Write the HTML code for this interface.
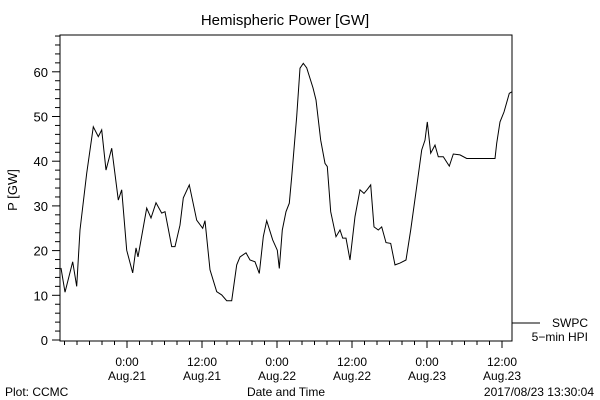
<!DOCTYPE html>
<html><head><meta charset="utf-8"><style>
html,body{margin:0;padding:0;background:#fff;}
svg{display:block;font-family:"Liberation Sans",sans-serif;}
</style></head><body>
<svg id="chart" width="600" height="400">
<text x="285" y="25" font-size="15" text-anchor="middle">Hemispheric Power [GW]</text>
<text transform="translate(17,190) rotate(-90)" font-size="13" text-anchor="middle">P [GW]</text>
<text x="286" y="396" font-size="12" text-anchor="middle">Date and Time</text>
<text x="5" y="396" font-size="12">Plot: CCMC</text>
<text x="594" y="396" font-size="12" text-anchor="end">2017/08/23 13:30:04</text>
<rect x="60" y="35" width="452" height="306" fill="none" stroke="#000" stroke-width="1"/>
<g id="axes"></g>
<polyline id="series" fill="none" stroke="#000" stroke-width="1"/>
<line x1="512" y1="323" x2="540" y2="323" stroke="#000"/>
<text x="588" y="327" font-size="12" text-anchor="end">SWPC</text>
<text x="588" y="341" font-size="12" text-anchor="end">5−min HPI</text>
</svg>
<script>
const hours = [-10.56,-9.92,-8.69,-8.05,-7.52,-6.45,-5.39,-4.59,-4.05,-3.36,-2.45,-1.39,-0.85,-0.05,0.91,1.44,1.76,3.15,3.84,4.64,5.55,6.08,7.15,7.68,8.48,9.01,9.97,11.15,12.11,12.48,13.28,14.35,15.15,15.95,16.75,17.55,18.08,19.04,19.68,20.48,21.17,21.81,22.35,23.31,24.05,24.37,24.85,25.44,25.97,26.35,27.15,27.68,28.21,28.75,29.76,30.24,30.99,31.68,32.05,32.59,33.44,34.08,34.51,35.04,35.68,36.48,37.28,37.92,38.45,38.99,39.52,40.21,40.75,41.44,42.19,42.88,43.68,44.64,45.39,46.35,47.15,47.68,48.05,48.59,49.28,49.81,50.61,51.57,52.21,53.28,54.35,56.48,58.88,59.15,59.68,60.32,61.17,61.55];
const power = [16.1,10.7,17.5,12,24.6,37.3,47.7,45.5,47,38,42.9,31.3,33.6,20.1,15,20.6,18.6,29.5,27.3,30.7,28.4,28.7,20.9,20.9,25.7,31.8,34.7,26.8,25,26.7,15.7,10.8,10.1,8.8,8.8,16.8,18.6,19.5,17.9,17.5,14.9,23.1,26.7,22.4,20.1,16,24.6,28.7,30.6,36.5,50,60.8,61.9,60.9,56.4,53.7,44.7,39.5,38.8,28.7,23.1,24.6,22.8,22.8,17.9,27.6,33.6,32.8,33.7,34.7,25.3,24.6,25.3,21.8,21.6,16.8,17.2,17.9,24.6,34.3,42.5,44.7,48.8,41.8,43.6,41,41,38.9,41.6,41.4,40.6,40.6,40.6,44,48.8,51,55.2,55.5];
const yTicks = [0,10,20,30,40,50,60];
const xTickHours = [0,12,24,36,48,60];
const xTickTimes = ["0:00","12:00","0:00","12:00","0:00","12:00"];
const xTickDates = ["Aug.21","Aug.21","Aug.22","Aug.22","Aug.23","Aug.23"];

const X0=60,X1=512,Y0=340;
const xs = h => 127 + h*6.25;
const ys = v => Y0 - v*4.47;
const NS="http://www.w3.org/2000/svg";
const g=document.getElementById('axes');
function mk(tag,attrs){const e=document.createElementNS(NS,tag);for(const k in attrs)e.setAttribute(k,attrs[k]);g.appendChild(e);return e;}
// y minor/major ticks
for(let v=0;v<=68;v+=2){
  const t=mk('line',{x1:(v%10===0?52:55),x2:X0,y1:ys(v),y2:ys(v),stroke:'#000'});
  
  
}
yTicks.forEach(v=>{
  const t=mk('text',{x:48,y:ys(v)+5,'font-size':13,'text-anchor':'end'});
  t.textContent=v;
  
  
});
for(let h=-10;h<=61;h+=2){
  const maj=h%12===0;
  const t=mk('line',{x1:xs(h),x2:xs(h),y1:341,y2:(maj?348:345),stroke:'#000'});
  
  
}
xTickHours.forEach((h,i)=>{
  const a=mk('text',{x:xs(h),y:366,'font-size':12,'text-anchor':'middle'});
  a.textContent=xTickTimes[i];
  
  
  const b=mk('text',{x:xs(h),y:380,'font-size':12,'text-anchor':'middle'});
  b.textContent=xTickDates[i];
  
  
});
document.getElementById('series').setAttribute('points',hours.map((h,i)=>xs(h).toFixed(1)+','+ys(power[i]).toFixed(1)).join(' '));
</script>
</body></html>
